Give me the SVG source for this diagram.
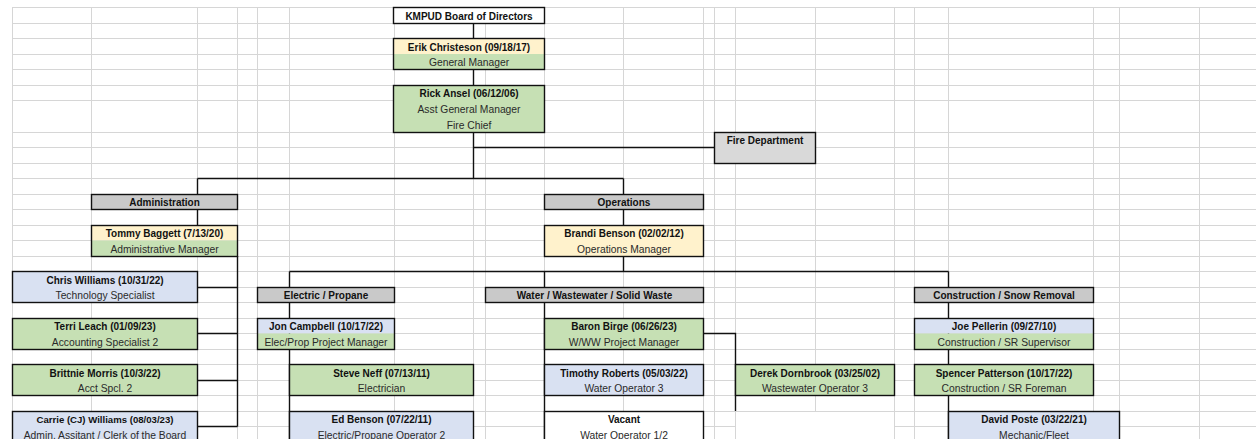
<svg xmlns="http://www.w3.org/2000/svg" width="1256" height="439" viewBox="0 0 1256 439">
<style>
.grid{stroke:#d6d6d6;stroke-width:1;fill:none}
.con{stroke:#111;stroke-width:1.4;fill:none}
.box{stroke:#111;stroke-width:1.4}
.b{font-family:"Liberation Sans",Arial,sans-serif;font-size:10px;font-weight:bold;fill:#111;text-anchor:middle}
.r{font-family:"Liberation Sans",Arial,sans-serif;font-size:10.3px;fill:#2a2a2a;text-anchor:middle}
.cream{fill:#fff2cc}.green{fill:#c6e0b4}.blue{fill:#d9e1f2}.hdr{fill:#c9c9c9}.fd{fill:#d9d9d9}.white{fill:#fff}
</style>
<rect width="1256" height="439" fill="#fff"/>
<g id="gridlines">
<path class="grid" d="M12.5 7V439M91.5 7V439M197.5 7V439M237.5 7V439M257.5 7V439M289.5 7V439M394.5 7V439M473.5 7V439M485.5 7V439M544.5 7V439M623.5 7V439M703.5 7V439M714.5 7V439M735.5 7V439M815.5 7V439M894.5 7V439M914.5 7V439M948.5 7V439M1093.5 7V439M1119.5 7V439M1199.5 7V439"/>
<path class="grid" d="M12 7.5H1256M12 23.5H1256M12 38.5H1256M12 54.5H1256M12 69.5H1256M12 85.5H1256M12 100.5H1256M12 132.5H1256M12 147.5H1256M12 163.5H1256M12 178.5H1256M12 194.5H1256M12 209.5H1256M12 225.5H1256M12 240.5H1256M12 256.5H1256M12 271.5H1256M12 287.5H1256M12 302.5H1256M12 318.5H1256M12 333.5H1256M12 349.5H1256M12 364.5H1256M12 380.5H1256M12 395.5H1256M12 411.5H1256M12 426.5H1256"/>
<rect x="736" y="412" width="158" height="27" fill="#fff"/>
</g>
<g id="connectors">
<path class="con" d="M473.5 23V38M473.5 69V85M473.5 132V178.5M473.5 147.5H714M197.5 178.5H623.5M197.5 178.5V194M623.5 178.5V194M197.5 209V225M623.5 209V225"/>
<path class="con" d="M237.5 256V426.5M197 287.5H237.5M197 333.5H237.5M197 380.5H237.5M197 426.5H237.5"/>
<path class="con" d="M623.5 256V271.5M289.5 271.5H948.5M289.5 271.5V439M544.5 271.5V439M948.5 271.5V439M703 333.5H735.5V411"/>
</g>
<g id="board"><rect class="box white" x="393.5" y="7.5" width="151" height="16"/><text class="b" x="469" y="20">KMPUD Board of Directors</text></g>
<g id="erik"><rect class="cream" x="393.5" y="38.5" width="151" height="16"/><rect class="green" x="393.5" y="54" width="151" height="15.5"/><rect class="box" fill="none" x="393.5" y="38.5" width="151" height="31"/><text class="b" x="469" y="51">Erik Christeson (09/18/17)</text><text class="r" x="469" y="66">General Manager</text></g>
<g id="rick"><rect class="box green" x="393.5" y="85.5" width="151" height="47"/><text class="b" x="469" y="97">Rick Ansel (06/12/06)</text><text class="r" x="469" y="113">Asst General Manager</text><text class="r" x="469" y="128.5">Fire Chief</text></g>
<g id="fire-department"><rect class="box fd" x="714.5" y="132.5" width="101" height="31"/><text class="b" x="765" y="144">Fire Department</text></g>
<g id="administration"><rect class="box hdr" x="91.5" y="194.5" width="146" height="15"/><text class="b" x="164.5" y="206">Administration</text></g>
<g id="operations"><rect class="box hdr" x="544.5" y="194.5" width="159" height="15"/><text class="b" x="624" y="206">Operations</text></g>
<g id="tommy"><rect class="cream" x="91.5" y="225.5" width="146" height="15"/><rect class="green" x="91.5" y="240.5" width="146" height="16"/><rect class="box" fill="none" x="91.5" y="225.5" width="146" height="31"/><text class="b" x="164.5" y="237">Tommy Baggett (7/13/20)</text><text class="r" x="164.5" y="253">Administrative Manager</text></g>
<g id="brandi"><rect class="box cream" x="544.5" y="225.5" width="159" height="31"/><text class="b" x="624" y="237">Brandi Benson (02/02/12)</text><text class="r" x="624" y="253">Operations Manager</text></g>
<g id="chris"><rect class="box blue" x="12.5" y="271.5" width="185" height="31"/><text class="b" x="105" y="284">Chris Williams (10/31/22)</text><text class="r" x="105" y="299">Technology Specialist</text></g>
<g id="electric-propane"><rect class="box hdr" x="257.5" y="287.5" width="137" height="15"/><text class="b" x="326" y="299">Electric / Propane</text></g>
<g id="water"><rect class="box hdr" x="485.5" y="287.5" width="218" height="15"/><text class="b" x="594.5" y="299">Water / Wastewater / Solid Waste</text></g>
<g id="construction"><rect class="box hdr" x="914.5" y="287.5" width="179" height="15"/><text class="b" x="1004" y="299">Construction / Snow Removal</text></g>
<g id="terri"><rect class="box green" x="12.5" y="318.5" width="185" height="31"/><text class="b" x="105" y="330">Terri Leach (01/09/23)</text><text class="r" x="105" y="346">Accounting Specialist 2</text></g>
<g id="jon"><rect class="blue" x="257.5" y="318.5" width="137" height="15"/><rect class="green" x="257.5" y="333.5" width="137" height="16"/><rect class="box" fill="none" x="257.5" y="318.5" width="137" height="31"/><text class="b" x="326" y="330">Jon Campbell (10/17/22)</text><text class="r" x="326" y="346">Elec/Prop Project Manager</text></g>
<g id="baron"><rect class="box green" x="544.5" y="318.5" width="159" height="31"/><text class="b" x="624" y="330">Baron Birge (06/26/23)</text><text class="r" x="624" y="346">W/WW Project Manager</text></g>
<g id="joe"><rect class="blue" x="914.5" y="318.5" width="179" height="15"/><rect class="green" x="914.5" y="333.5" width="179" height="16"/><rect class="box" fill="none" x="914.5" y="318.5" width="179" height="31"/><text class="b" x="1004" y="330">Joe Pellerin (09/27/10)</text><text class="r" x="1004" y="346">Construction / SR Supervisor</text></g>
<g id="brittnie"><rect class="box green" x="12.5" y="364.5" width="185" height="31"/><text class="b" x="105" y="377">Brittnie Morris (10/3/22)</text><text class="r" x="105" y="392">Acct Spcl. 2</text></g>
<g id="steve"><rect class="box green" x="289.5" y="364.5" width="184" height="31"/><text class="b" x="381.5" y="377">Steve Neff (07/13/11)</text><text class="r" x="381.5" y="392">Electrician</text></g>
<g id="timothy"><rect class="box blue" x="544.5" y="364.5" width="159" height="31"/><text class="b" x="624" y="377">Timothy Roberts (05/03/22)</text><text class="r" x="624" y="392">Water Operator 3</text></g>
<g id="derek"><rect class="box green" x="735.5" y="364.5" width="159" height="31"/><text class="b" x="815" y="377">Derek Dornbrook (03/25/02)</text><text class="r" x="815" y="392">Wastewater Operator 3</text></g>
<g id="spencer"><rect class="box green" x="914.5" y="364.5" width="179" height="31"/><text class="b" x="1004" y="377">Spencer Patterson (10/17/22)</text><text class="r" x="1004" y="392">Construction / SR Foreman</text></g>
<g id="carrie"><rect class="box blue" x="12.5" y="411.5" width="185" height="31"/><text class="b" x="105" y="423" style="font-size:9.6px">Carrie (CJ) Williams (08/03/23)</text><text class="r" x="105" y="438.5">Admin. Assitant / Clerk of the Board</text></g>
<g id="ed"><rect class="box blue" x="289.5" y="411.5" width="184" height="31"/><text class="b" x="381.5" y="423">Ed Benson (07/22/11)</text><text class="r" x="381.5" y="438.5">Electric/Propane Operator 2</text></g>
<g id="vacant"><rect class="box white" x="544.5" y="411.5" width="159" height="31"/><text class="b" x="624" y="423">Vacant</text><text class="r" x="624" y="438.5">Water Operator 1/2</text></g>
<g id="david"><rect class="box blue" x="948.5" y="411.5" width="171" height="31"/><text class="b" x="1034" y="423">David Poste (03/22/21)</text><text class="r" x="1034" y="438.5">Mechanic/Fleet</text></g>
</svg>
